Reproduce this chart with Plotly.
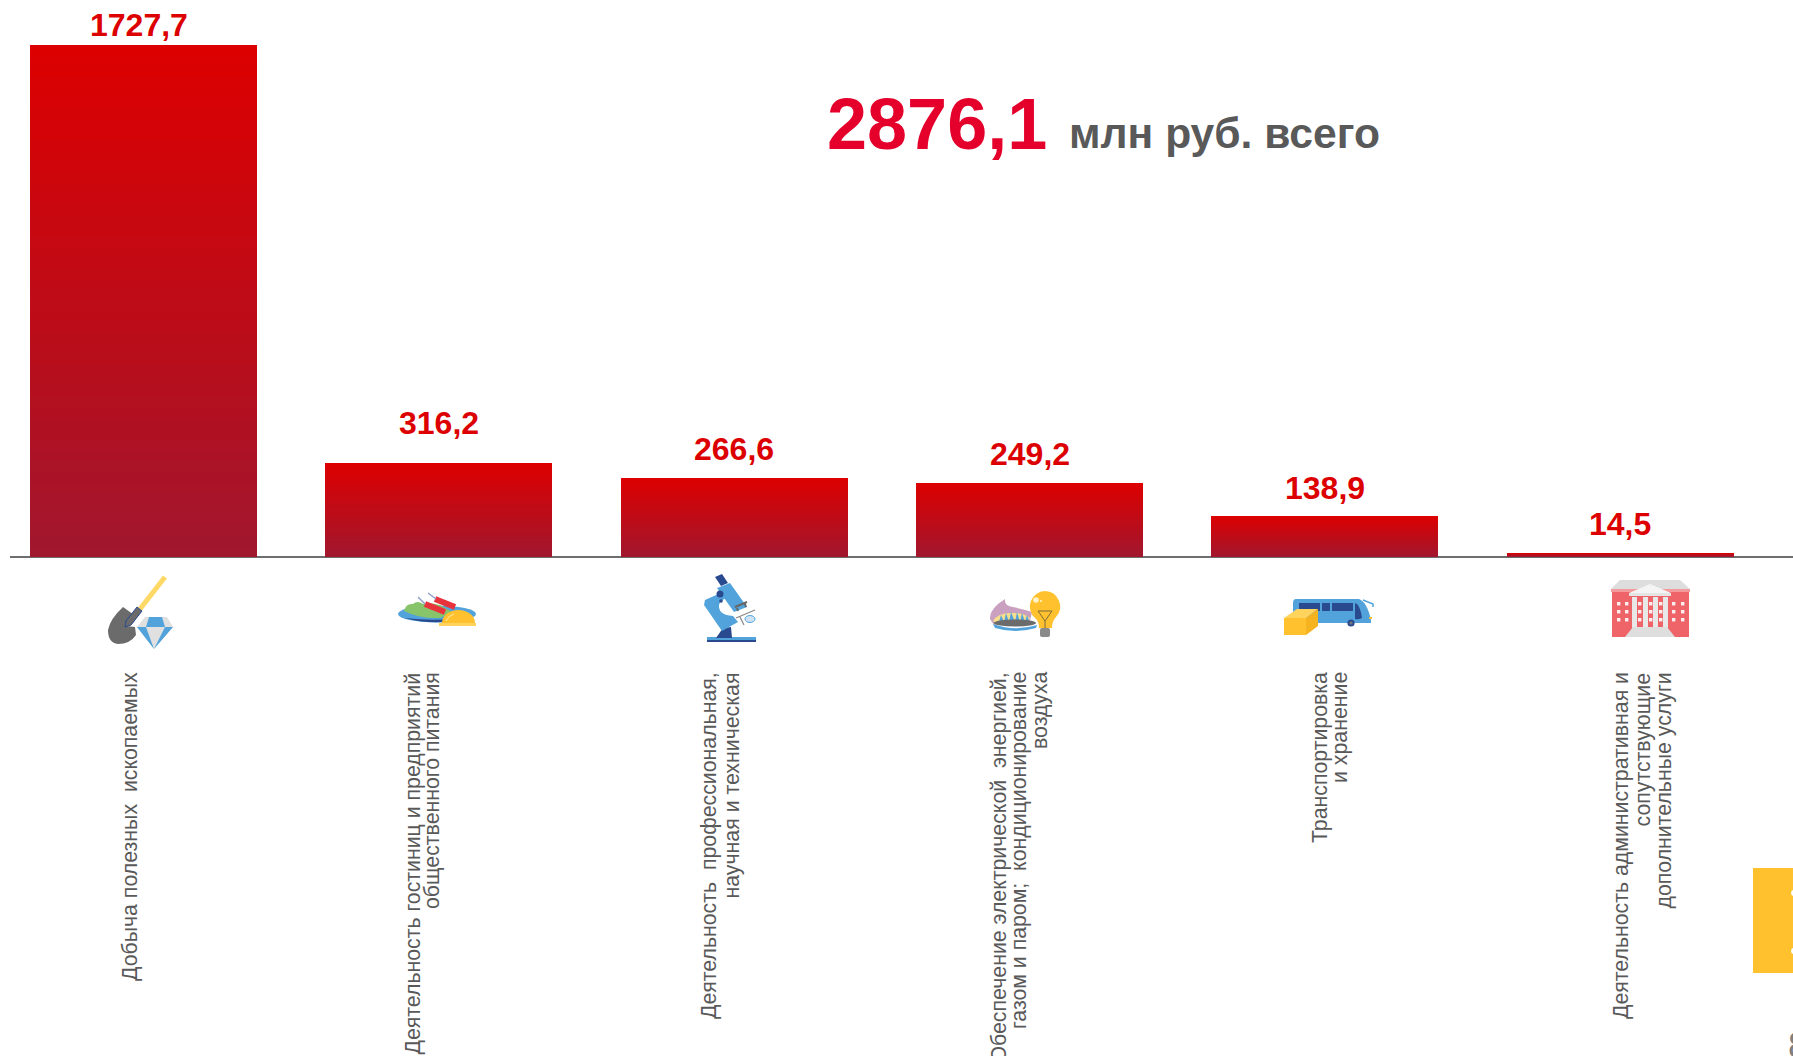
import base64
import plotly.graph_objects as go

# ---------- data ----------
categories = [
    "Добыча полезных\u00a0\u00a0ископаемых",
    "Деятельность гостиниц и предприятий<br>общественного питания",
    "Деятельность\u00a0\u00a0профессиональная,<br>научная и техническая",
    "Обеспечение электрической\u00a0\u00a0энергией,<br>газом и паром;\u00a0\u00a0кондиционирование<br>воздуха",
    "Транспортировка<br>и хранение",
    "Деятельность административная и<br>сопутствующие<br>дополнительные услуги",
]
values = [1727.7, 316.2, 266.6, 249.2, 138.9, 14.5]
value_labels = ["1727,7", "316,2", "266,6", "249,2", "138,9", "14,5"]
total_label = "2876,1"
total_unit = "млн руб. всего"

# ---------- layout constants ----------
W, H = 1793, 1056
LEFT = 10
BASE_PX = 557
PX_PER_UNIT = 512 / 1727.7
PERIOD, C0 = 295.3, 143.6
GRAD_TOP, GRAD_BOTTOM = (220, 0, 0), (160, 23, 47)
N_SLICES = 48
GREY = "#595959"
label_dy = [20, 40, 29, 29, 28, 29]
label_dx = [-5, 0, 0, 0, 0, 0]
cat_line_px = [[130], [412, 432], [709, 731], [998, 1019, 1040], [1320, 1340], [1621, 1642, 1663]]


def px(x):
    return (x - LEFT) / (W - LEFT)


def py(y):
    return 1 - y / H


fig = go.Figure()
# gradient: overlaid bars, each shorter one painted over the taller one
for k in range(N_SLICES):
    f = k / N_SLICES
    c = [round(a + (b - a) * f) for a, b in zip(GRAD_TOP, GRAD_BOTTOM)]
    fig.add_trace(go.Bar(
        x=categories, y=[v * (1 - f) for v in values], width=227 / PERIOD,
        marker=dict(color=f"rgb({c[0]},{c[1]},{c[2]})", line_width=0),
        hoverinfo="skip", showlegend=False,
    ))

ann = []
for i, v in enumerate(values):
    ann.append(dict(x=i, y=v, xref="x", yref="y", text=f"<b>{value_labels[i]}</b>",
                    showarrow=False, xanchor="center", yanchor="middle",
                    xshift=label_dx[i], yshift=label_dy[i],
                    font=dict(family="Liberation Sans", size=32, color="#DC0000")))
    # each line is its own text: the reference's line spacing is tighter than Plotly's
    for line, lx in zip(categories[i].split("<br>"), cat_line_px[i]):
        ann.append(dict(x=px(lx), y=py(670.5), xref="paper", yref="paper",
                        text=line, showarrow=False, textangle=-90,
                        xanchor="center", yanchor="top",
                        font=dict(family="Liberation Sans", size=21.3, color=GREY)))
ann.append(dict(x=px(825), y=py(124), xref="paper", yref="paper", text=f"<b>{total_label}</b>",
                showarrow=False, xanchor="left", yanchor="middle",
                font=dict(family="Liberation Sans", size=72, color="#E4002B")))
ann.append(dict(x=px(1067), y=py(133), xref="paper", yref="paper", text=f"<b>{total_unit}</b>",
                showarrow=False, xanchor="left", yanchor="middle",
                font=dict(family="Liberation Sans", size=42.6, color=GREY)))
ann.append(dict(x=px(1786), y=py(1045), xref="paper", yref="paper", text="8",
                showarrow=False, xanchor="left", yanchor="middle",
                font=dict(family="Liberation Sans", size=36, color="#7f7f7f")))

# ---------- decorative icons ----------
BLUE, DARK, YEL = "#52A3DC", "#2A4A8F", "#FFC22E"


def icon(x, y, w, h, body):
    svg = (f'<svg xmlns="http://www.w3.org/2000/svg" width="{w*3}" height="{h*3}" viewBox="0 0 {w} {h}">'
           f'{body}</svg>')
    src = "data:image/svg+xml;base64," + base64.b64encode(svg.encode()).decode()
    return dict(source=src, xref="paper", yref="paper", x=px(x), y=py(y),
                sizex=w / (W - LEFT), sizey=h / H, xanchor="left", yanchor="top",
                sizing="stretch", layer="above")


shovel = f'''
<line x1="70" y1="12" x2="45" y2="44" stroke="#FFD966" stroke-width="5"/>
<path d="M28 42 L42 52 L38 58 L32 61 L40 62 L41 70 Q35 79 23 79 Q13 78 13 65 Q15 54 28 42Z" fill="#6B6B6B"/>
<path d="M42 42 L47 46 L36 60 L30 62 L31 56Z" fill="#6B6B6B" stroke="{DARK}" stroke-width="1"/>
<path d="M50 52 L72 52 L78 62 L59 84 L42 62Z" fill="#E0E0E0"/>
<path d="M54 52 L67 52 L70 62 L51 62Z" fill="{BLUE}"/>
<path d="M42 62 L51 62 L59 84Z M70 62 L78 62 L59 84Z" fill="{BLUE}"/>'''

dish = f'''
<ellipse cx="47" cy="34" rx="39" ry="8.5" fill="{BLUE}"/>
<path d="M14 38 Q48 47 78 37 Q50 42 14 38Z" fill="{DARK}"/>
<path d="M14 31 Q16 23 23 24 Q27 20 33 24 Q40 22 50 25 L62 32 L50 38 Q30 39 14 31Z" fill="#88C46A"/>
<line x1="45" y1="19" x2="65" y2="27" stroke="#E8323C" stroke-width="6"/>
<line x1="35" y1="24" x2="55" y2="32" stroke="#E8323C" stroke-width="6"/>
<path d="M28 17 L35 24 M38 13 L46 19" stroke="#8FA2CC" stroke-width="1.5" fill="none"/>
<path d="M52 43 A16.5 13 0 0 1 85 43Z" fill="{YEL}"/>
<path d="M56 41 Q58 36 64 34" stroke="#FFE9A8" stroke-width="1" fill="none"/>
<rect x="49" y="43" width="37" height="3" fill="#FFD35C"/>'''

micro = f'''
<rect x="17" y="72" width="49" height="3" fill="{BLUE}"/>
<rect x="17" y="75" width="49" height="2" fill="{DARK}"/>
<path d="M26 73 L33 63 L41 62 L42 73Z" fill="{DARK}"/>
<path d="M33 27 L15 35 L14 40 L32 66 L48 57 L43 51 Q28 50 29 40 Q30 36 36 33Z" fill="{BLUE}"/>
<path d="M27 23 L40 18 L57 42 L44 47Z" fill="{BLUE}"/>
<path d="M25 12 L32 9 L38 18 L31 21Z" fill="{DARK}"/>
<circle cx="30" cy="29" r="3.5" fill="{DARK}"/><circle cx="31" cy="36" r="1.8" fill="{DARK}"/>
<path d="M45 42 L57 37 M47 43 L48 46 M55 39 L56 42" stroke="#666" stroke-width="2" fill="none"/>
<path d="M46 53 L65 45 M50 52 L54 60" stroke="#888" stroke-width="1.2" fill="none"/>
<ellipse cx="60" cy="54" rx="5" ry="3.5" fill="#CFE3F5" stroke="{BLUE}"/>'''

bulb = f'''
<path d="M10 34 Q9 24 25 14 Q24 21 33 22 Q43 24 52 27 L50 36 L14 40Z" fill="#C9A0BF"/>
<path d="M13 36 Q18 27 34 28 Q44 28 50 33 L48 38 L18 39Z" fill="#F7DE8D"/>
<path d="M19 37 L21 30 L24 37 L26 28 L29 37 L31 27 L35 37 L37 27 L40 37 L42 28 L45 37 L47 30 L50 38Z" fill="{BLUE}"/>
<ellipse cx="35" cy="38" rx="21" ry="3.5" fill="#6B6B6B"/>
<path d="M13 39 Q35 47 57 40 L56 43 Q35 49 15 43Z" fill="{BLUE}"/>
<path d="M65 6 A15.5 15.5 0 0 1 76 32 Q72 36 72 43 L59 43 Q59 36 55 33 A15.5 15.5 0 0 1 65 6Z" fill="{YEL}"/>
<circle cx="56" cy="15" r="2.8" fill="#FFF3C8"/><circle cx="61" cy="16" r="1.1" fill="#FFF3C8"/>
<path d="M58 26 L72 26 L65 36 Z M65 36 V43" stroke="#7a6a3a" stroke-width="1" fill="none"/>
<rect x="60" y="43" width="10" height="9" rx="2" fill="#8A8A8A"/>'''

bus = f'''
<path d="M21 9 L84 9 Q92 12 96 30 L96 33 L18 33 L18 13 Q18 9 21 9Z" fill="{BLUE}"/>
<path d="M88 10 L98 14 L98 17" stroke="{BLUE}" stroke-width="1.5" fill="none"/>
<rect x="24" y="13" width="21" height="8" fill="{DARK}"/><rect x="47" y="13" width="8" height="8" fill="{DARK}"/>
<rect x="57" y="13" width="21" height="8" fill="{DARK}"/>
<path d="M80 13 Q85 14 87 28 Q83 30 80 29Z" fill="{DARK}"/>
<circle cx="76" cy="33" r="3.6" fill="{DARK}"/><circle cx="76" cy="33" r="1.6" fill="#777"/>
<rect x="94" y="27" width="3" height="2" fill="{YEL}"/>
<path d="M9 28 L22 19 L43 19 L31 28Z" fill="#FFD35C"/>
<path d="M31 28 L43 19 L43 36 L31 45Z" fill="#F5B41F"/>
<rect x="9" y="28" width="22" height="17" fill="{YEL}"/>'''

win = "".join(f'<rect x="{x}" y="{y}" width="3.4" height="3.4" fill="#FFF1F1"/>'
              for x in (17, 25, 38, 49, 59, 72, 81) for y in (27, 35, 43))
building = f'''
<rect x="12" y="15" width="77" height="47" fill="#EE6468"/>
<path d="M20 5 L80 5 L90 14 L11 14Z" fill="#DDDDDD"/>
<rect x="11" y="14" width="79" height="3" fill="#F29A9C"/>
{win}
<path d="M29 18 L50 9 L71 18Z" fill="#F4F4F4"/><rect x="29" y="18" width="42" height="3" fill="#E5E5E5"/>
<rect x="32" y="22" width="5" height="31" fill="#E8E8E8"/><rect x="43" y="22" width="5" height="31" fill="#E8E8E8"/>
<rect x="53" y="22" width="5" height="31" fill="#E8E8E8"/><rect x="63" y="22" width="5" height="31" fill="#E8E8E8"/>
<path d="M25 62 L33 52 L67 52 L75 62Z" fill="#DEDEDE"/>'''

images = [
    icon(95, 565, 100, 90, shovel),
    icon(390, 580, 100, 60, dish),
    icon(690, 565, 90, 90, micro),
    icon(980, 585, 90, 60, bulb),
    icon(1275, 590, 110, 55, bus),
    icon(1600, 575, 100, 70, building),
]

shapes = [
    dict(type="rect", xref="paper", yref="paper", x0=px(1753), x1=1, y0=py(973), y1=py(868),
         fillcolor=YEL, line_width=0, layer="below"),
    dict(type="circle", xref="paper", yref="paper", x0=px(1791), x1=px(1796), y0=py(896), y1=py(890),
         fillcolor="white", line_width=0),
    dict(type="circle", xref="paper", yref="paper", x0=px(1791), x1=px(1796), y0=py(954), y1=py(948),
         fillcolor="white", line_width=0),
]

fig.update_layout(
    width=W, height=H, margin=dict(l=LEFT, r=0, t=0, b=0),
    paper_bgcolor="white", plot_bgcolor="white", barmode="overlay", bargap=0,
    showlegend=False, annotations=ann, images=images, shapes=shapes,
    xaxis=dict(type="category", categoryorder="array", categoryarray=categories,
               range=[(LEFT - C0) / PERIOD, (W - C0) / PERIOD],
               showticklabels=False, showgrid=False, zeroline=False, showline=False, ticks=""),
    yaxis=dict(range=[-(H - BASE_PX) / PX_PER_UNIT, BASE_PX / PX_PER_UNIT],
               showticklabels=False, showgrid=False, zeroline=True, zerolinecolor="#6E6E6E",
               zerolinewidth=1.5, ticks=""),
)

fig.write_html("out.html", config={"displayModeBar": False},
               post_script="document.body.style.margin='0';document.body.style.overflow='hidden';")
